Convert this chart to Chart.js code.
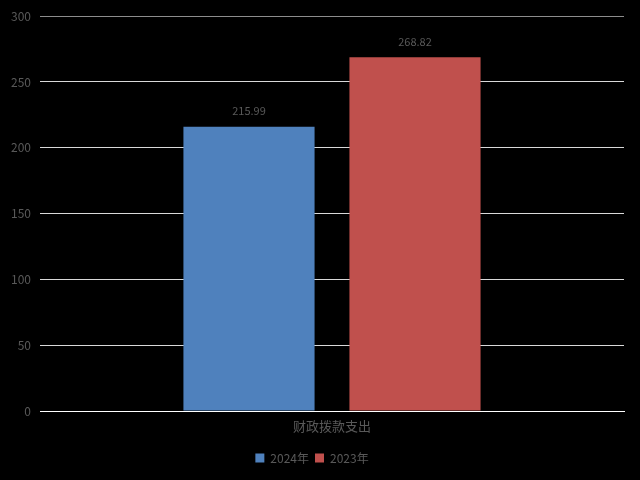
<!DOCTYPE html>
<html><head><meta charset="utf-8">
<script src="https://cdn.jsdelivr.net/npm/chart.js@4/dist/chart.umd.min.js"></script>
<style>html,body{margin:0;padding:0;background:#000;}#wrap{width:640px;height:480px;}</style>
</head><body><div id="wrap"><canvas id="c" width="640" height="480"></canvas></div>
<script>
const categories = ["财政拨款支出"];
const seriesNames = ["2024年", "2023年"];
const values2024 = [215.99];
const values2023 = [268.82];
const yTicks = [0, 50, 100, 150, 200, 250, 300];

const FONT = '"Noto Sans CJK SC", "Noto Sans", sans-serif';
const labelPlugin = {
  id: 'barLabels',
  afterDatasetsDraw(chart) {
    const ctx = chart.ctx;
    ctx.save();
    ctx.font = '11px ' + FONT;
    ctx.fillStyle = '#595959';
    ctx.textAlign = 'center';
    ctx.textBaseline = 'bottom';
    chart.data.datasets.forEach((ds, i) => {
      chart.getDatasetMeta(i).data.forEach((el, j) => {
        ctx.fillText(ds.data[j].toFixed(2), el.x, el.y - 10);
      });
    });
    ctx.restore();
  }
};

new Chart(document.getElementById('c'), {
  type: 'bar',
  data: {
    labels: categories,
    datasets: [
      { label: seriesNames[0], data: values2024, backgroundColor: '#4f81bd', categoryPercentage: 0.5685, barPercentage: 0.79 },
      { label: seriesNames[1], data: values2023, backgroundColor: '#c0504d', categoryPercentage: 0.5685, barPercentage: 0.79 }
    ]
  },
  options: {
    responsive: false,
    animation: false,
    layout: { padding: { top: 13, right: 16, left: 0, bottom: 6 } },
    plugins: {
      legend: {
        position: 'bottom',
        labels: { color: '#595959', font: { family: FONT, size: 12 }, boxWidth: 9, boxHeight: 9, padding: 6 }
      },
      tooltip: { enabled: false }
    },
    scales: {
      x: {
        grid: { display: false },
        border: { display: true, color: '#ffffff' },
        ticks: { color: '#595959', font: { family: FONT, size: 13 }, padding: -1 },
        afterFit(axis) { axis.height = 35; }
      },
      y: {
        min: 0, max: 300,
        afterBuildTicks(axis) { axis.ticks = yTicks.map(v => ({ value: v })); },
        afterFit(axis) { axis.width = 40; },
        border: { display: false },
        grid: {
          color: ctx => ctx.tick.value === 300 ? '#8c8c8c' : (ctx.tick.value === 0 ? '#ffffff' : '#d9d9d9'),
          drawTicks: false
        },
        ticks: { color: '#595959', font: { family: FONT, size: 12 }, padding: 9 }
      }
    }
  },
  plugins: [labelPlugin]
});
</script></body></html>
